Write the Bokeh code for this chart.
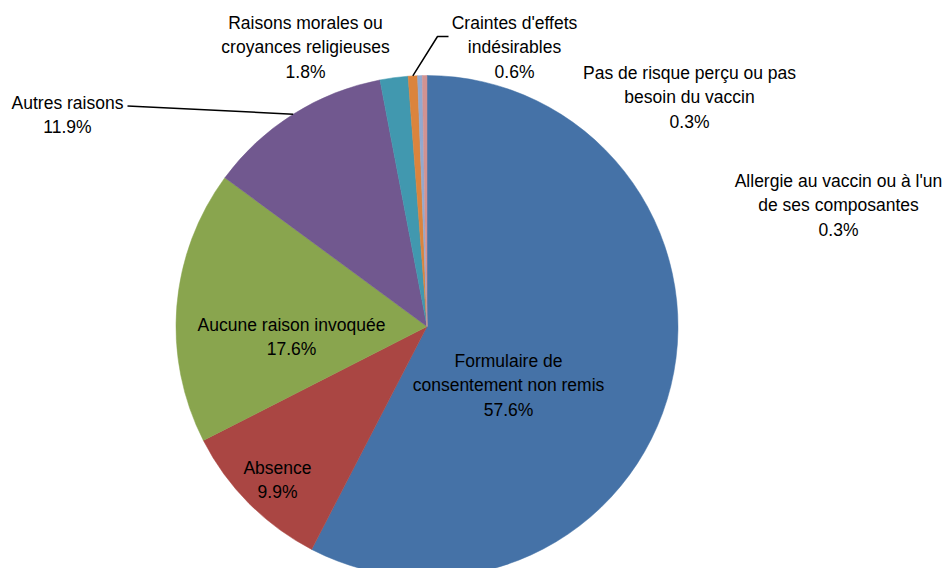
import math
from bokeh.plotting import figure
from bokeh.models import Range1d, ColumnDataSource
from bokeh.core.properties import value
from bokeh.embed import file_html
from bokeh.resources import INLINE

# ---- data ----
categories = [
    "Formulaire de\nconsentement non remis",
    "Absence",
    "Aucune raison invoquée",
    "Autres raisons",
    "Raisons morales ou\ncroyances religieuses",
    "Craintes d'effets\nindésirables",
    "Pas de risque perçu ou pas\nbesoin du vaccin",
    "Allergie au vaccin ou à l'un\nde ses composantes",
]
shares = [57.6, 9.9, 17.6, 11.9, 1.8, 0.6, 0.3, 0.3]
colors = ["#4572A7", "#AA4643", "#89A54E", "#71588F", "#4198AF", "#DB843D", "#93A9CF", "#D19392"]

# ---- layout (picture pixel coordinates) ----
W, H = 943, 568
CX, CY, R = 426.5, 326, 251
# label anchors: (x centre, y of first line) in picture px
label_pos = [(508, 360), (277, 467), (291, 324), (67, 102),
             (305, 22), (514, 22), (689, 72), (838, 180)]
# leader lines: label-side points (picture px)
leaders = {3: [(127, 105.5)], 5: [(448, 36), (437, 36)]}
LINE_H = 24.5
FONT = "Liberation Sans"
FS = "17.5px"

def sy(y):
    return H - y

p = figure(width=W, height=H, output_backend="svg", toolbar_location=None,
           x_range=Range1d(0, W), y_range=Range1d(0, H),
           min_border=0, outline_line_color=None)
p.axis.visible = False
p.grid.visible = False
p.background_fill_color = "white"

total = sum(shares)
starts, ends, mids = [], [], []
cum = 0.0
for s in shares:
    a0 = cum / total
    cum += s
    a1 = cum / total
    starts.append(math.pi / 2 - 2 * math.pi * a0)
    ends.append(math.pi / 2 - 2 * math.pi * a1)
    mids.append(math.pi / 2 - 2 * math.pi * (a0 + a1) / 2)

src = ColumnDataSource(dict(start=starts, end=ends, color=colors))
p.wedge(x=CX, y=sy(CY), radius=R, start_angle="start", end_angle="end",
        direction="clock", fill_color="color", line_color="color", line_width=0.5,
        source=src)

# leader lines
for i, pts in leaders.items():
    ex = CX + R * math.cos(mids[i])
    ey = sy(CY) + R * math.sin(mids[i])
    xs = [pt[0] for pt in pts] + [ex]
    ys = [sy(pt[1]) for pt in pts] + [ey]
    p.line(xs, ys, line_color="black", line_width=1.5)

# labels
tx, ty, tt = [], [], []
for i, (cat, s) in enumerate(zip(categories, shares)):
    lines = cat.split("\n") + [f"{s:.1f}%"]
    x0, y0 = label_pos[i]
    for k, ln in enumerate(lines):
        tx.append(x0)
        ty.append(sy(y0 + k * LINE_H))
        tt.append(ln)
p.text(x=tx, y=ty, text=tt, text_align="center", text_baseline="middle",
       text_font=value(FONT), text_font_size=FS, text_color="black")

open("out.html", "w").write(file_html(p, INLINE))
